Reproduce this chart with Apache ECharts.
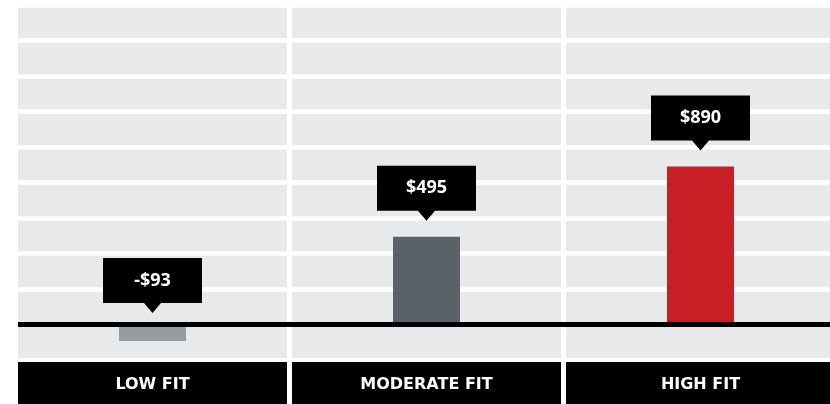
<!DOCTYPE html>
<html>
<head>
<meta charset="utf-8">
<style>html,body{margin:0;padding:0;background:#fff;}#chart{width:830px;height:404px;}</style>
<script src="https://cdn.jsdelivr.net/npm/echarts@6/dist/echarts.min.js"></script>
</head>
<body>
<div id="chart"></div>
<script>
const categories = ['LOW FIT', 'MODERATE FIT', 'HIGH FIT'];
const values = [-93, 495, 890];
const valueLabels = ['-$93', '$495', '$890'];
const yMin = -200, yMax = 1800, yStep = 200;

const barColors = ['#999c9f', '#5b6168', '#c81f27'];

const chart = echarts.init(document.getElementById('chart'), null, {renderer: 'canvas'});
chart.setOption({
  animation: false,
  grid: {
    left: 15.5, top: 5, width: 822, height: 355,
    show: true, backgroundColor: '#e8e9eb', borderWidth: 0,
    outerBoundsMode: 'none', containLabel: false
  },
  xAxis: {
    type: 'category',
    data: categories,
    position: 'bottom',
    axisLine: {show: false, onZero: false},
    axisTick: {show: false},
    splitLine: {show: true, lineStyle: {color: '#ffffff', width: 5}},
    axisLabel: {
      interval: 0,
      margin: 2,
      color: '#ffffff',
      backgroundColor: '#000000',
      width: 269,
      height: 42,
      lineHeight: 45,
      align: 'center',
      fontFamily: 'DejaVu Sans',
      fontWeight: 'bold',
      fontSize: 16
    }
  },
  yAxis: {
    type: 'value',
    min: yMin, max: yMax, interval: yStep,
    axisLine: {show: false},
    axisTick: {show: false},
    axisLabel: {show: false},
    splitLine: {show: true, lineStyle: {color: '#ffffff', width: 4.5}}
  },
  series: [{
    type: 'bar',
    barWidth: 67,
    data: values.map((v, i) => ({value: v, itemStyle: {color: barColors[i]}})),
    markLine: {
      silent: true,
      symbol: 'none',
      label: {show: false},
      lineStyle: {color: '#000000', width: 5, type: 'solid'},
      data: [[{x: 18, yAxis: 0}, {x: 830, yAxis: 0}]]
    },
    markPoint: {
      silent: true,
      symbol: 'path://M0,0H99V45H58L49.5,55L41,45H0Z',
      symbolSize: [99, 55],
      itemStyle: {color: '#000000'},
      label: {
        show: true,
        position: 'inside',
        offset: [0, -5],
        formatter: '{b}',
        color: '#ffffff',
        fontFamily: 'Open Sans',
        fontWeight: 'bold',
        fontSize: 18
      },
      data: values.map((v, i) => ({
        name: valueLabels[i],
        coord: [categories[i], Math.max(v, 0)],
        symbolOffset: [0, v >= 0 ? -43.5 : -39]
      }))
    }
  }]
});
</script>
</body>
</html>
